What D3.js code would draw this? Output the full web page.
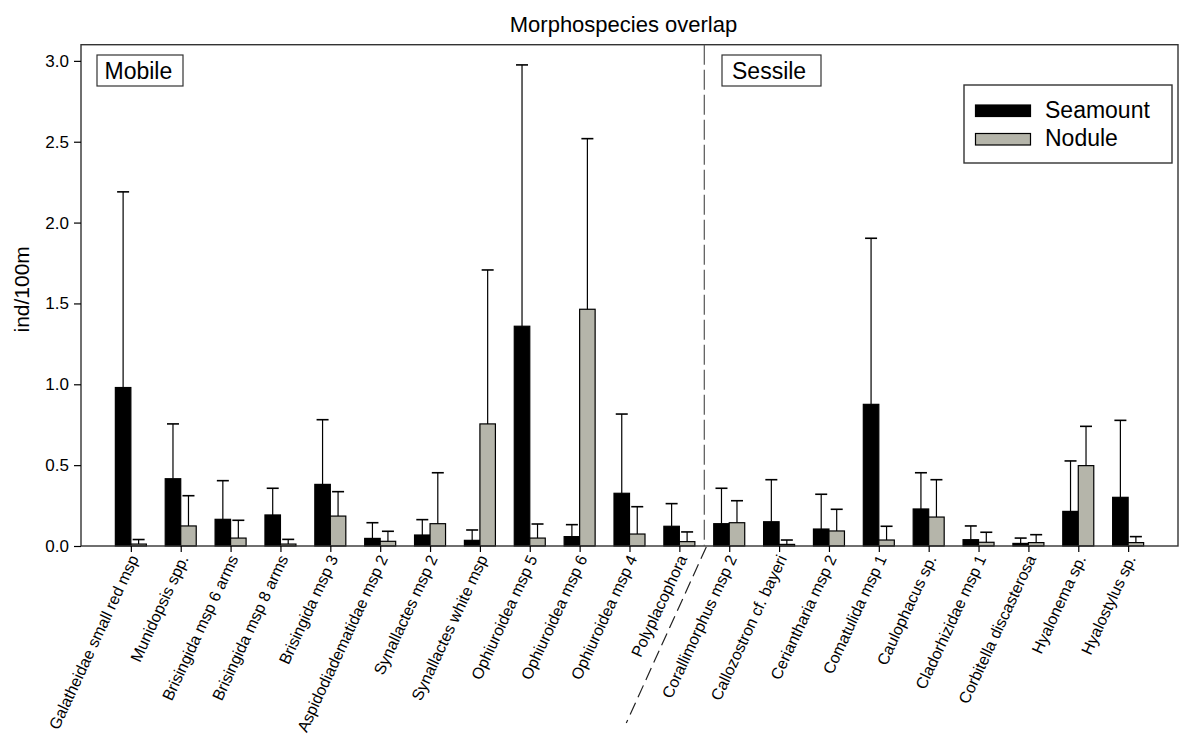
<!DOCTYPE html>
<html>
<head>
<meta charset="utf-8">
<script src="https://cdn.jsdelivr.net/npm/d3@7"></script>
<style>
  html, body { margin: 0; padding: 0; background: #fff; }
  svg text { font-family: "Liberation Sans", Arial, Helvetica, sans-serif; fill: #000; }
</style>
</head>
<body>
<svg id="chart" width="1201" height="756"></svg>
<script>
// Morphospecies densities (ind/100m), mean and standard deviation per habitat
const categories = [
  "Galatheidae small red msp", "Munidopsis spp.", "Brisingida msp 6 arms", "Brisingida msp 8 arms",
  "Brisingida msp 3", "Aspidodiadematidae msp 2", "Synallactes msp 2", "Synallactes white msp",
  "Ophiuroidea msp 5", "Ophiuroidea msp 6", "Ophiuroidea msp 4", "Polyplacophora",
  "Corallimorphus msp 2", "Callozostron cf. bayeri", "Ceriantharia msp 2", "Comatulida msp 1",
  "Caulophacus sp.", "Cladorhizidae msp 1", "Corbitella discasterosa", "Hyalonema sp.", "Hyalostylus sp."
];
const seamountMean = [0.98, 0.416, 0.165, 0.192, 0.381, 0.047, 0.068, 0.035, 1.359, 0.058, 0.326, 0.122,
                      0.138, 0.150, 0.105, 0.876, 0.229, 0.039, 0.016, 0.214, 0.301];
const seamountSD   = [1.21, 0.339, 0.239, 0.165, 0.40, 0.097, 0.095, 0.064, 1.616, 0.074, 0.49, 0.14,
                      0.219, 0.26, 0.215, 1.027, 0.224, 0.085, 0.033, 0.312, 0.476];
const noduleMean   = [0.012, 0.124, 0.049, 0.012, 0.185, 0.029, 0.138, 0.755, 0.049, 1.464, 0.074, 0.027,
                      0.144, 0.010, 0.093, 0.037, 0.179, 0.023, 0.021, 0.497, 0.021];
const noduleSD     = [0.028, 0.187, 0.11, 0.029, 0.151, 0.062, 0.315, 0.952, 0.087, 1.055, 0.169, 0.06,
                      0.136, 0.027, 0.134, 0.085, 0.231, 0.062, 0.049, 0.243, 0.037];
const yTicks = [0, 0.5, 1.0, 1.5, 2.0, 2.5, 3.0];
const seriesNames = ["Seamount", "Nodule"];
const seriesColors = ["#000000", "#b5b5aa"];
const groupLabels = ["Mobile", "Sessile"];
const mobileCount = 12; // first 12 categories are mobile fauna

const svg = d3.select("#chart");
const plotLeft = 81, plotRight = 1178, plotTop = 44.7, plotBottom = 546;

const x = d3.scalePoint().domain(categories).range([plotLeft, plotRight]).padding(1);
const y = d3.scaleLinear().domain([0, 3.1]).range([plotBottom, plotTop]);
const barW = 15.5;

const series = [
  { name: seriesNames[0], color: seriesColors[0], mean: seamountMean, sd: seamountSD, off: -1 },
  { name: seriesNames[1], color: seriesColors[1], mean: noduleMean, sd: noduleSD, off: 0 }
];

// title
svg.append("text").attr("x", 623.5).attr("y", 32).attr("text-anchor", "middle")
  .style("font-size", "22px").text("Morphospecies overlap");

// bars and upper error bars
series.forEach(s => {
  const g = svg.append("g");
  categories.forEach((c, i) => {
    const bx = x(c) + s.off * barW;
    g.append("rect")
      .attr("x", bx).attr("y", y(s.mean[i]))
      .attr("width", barW).attr("height", y(0) - y(s.mean[i]))
      .attr("fill", s.color).attr("stroke", "#000").attr("stroke-width", 1.2);
    const cx = bx + barW / 2;
    const yt = y(s.mean[i] + s.sd[i]);
    g.append("line").attr("x1", cx).attr("x2", cx).attr("y1", y(s.mean[i])).attr("y2", yt)
      .attr("stroke", "#000").attr("stroke-width", 1.2);
    g.append("line").attr("x1", cx - 6).attr("x2", cx + 6).attr("y1", yt).attr("y2", yt)
      .attr("stroke", "#000").attr("stroke-width", 1.6);
  });
});

// frame
svg.append("rect").attr("x", plotLeft).attr("y", plotTop)
  .attr("width", plotRight - plotLeft).attr("height", plotBottom - plotTop)
  .attr("fill", "none").attr("stroke", "#333").attr("stroke-width", 1.4);

// y axis
const yAxis = d3.axisLeft(y).tickValues(yTicks).tickFormat(d3.format(".1f")).tickSize(7).tickPadding(5);
const ya = svg.append("g").attr("transform", `translate(${plotLeft},0)`).call(yAxis);
ya.select(".domain").remove();
ya.selectAll("line").attr("stroke", "#000").attr("stroke-width", 1.2);
ya.selectAll("text").style("font-size", "17px").style("font-family", "'Liberation Sans', Arial, sans-serif");

svg.append("text").attr("transform", `translate(29,${(plotTop + plotBottom) / 2 - 6}) rotate(-90)`)
  .attr("text-anchor", "middle").style("font-size", "21px").text("ind/100m");

// x axis
const xAxis = d3.axisBottom(x).tickSize(6).tickFormat("");
const xa = svg.append("g").attr("transform", `translate(0,${plotBottom})`).call(xAxis);
xa.select(".domain").remove();
xa.selectAll("line").attr("stroke", "#000").attr("stroke-width", 1.2);

svg.append("g").selectAll("text").data(categories).join("text")
  .attr("transform", d => `translate(${x(d) + 3},${plotBottom + 10}) rotate(-65)`)
  .attr("text-anchor", "end").attr("dy", "0.35em")
  .style("font-size", "16px").text(d => d);

// divider between mobile and sessile groups
const divX = (x(categories[mobileCount - 1]) + x(categories[mobileCount])) / 2;
svg.append("line").attr("x1", divX).attr("x2", divX).attr("y1", plotTop).attr("y2", plotBottom)
  .attr("stroke", "#555").attr("stroke-width", 1.2).attr("stroke-dasharray", "20,5");
svg.append("line").attr("x1", divX + 2).attr("x2", divX - 78).attr("y1", plotBottom + 1).attr("y2", 723)
  .attr("stroke", "#222").attr("stroke-width", 1.2).attr("stroke-dasharray", "13,6");

// group labels in boxes
const groupBoxes = [
  { label: groupLabels[0], x: 97, w: 86, tx: 104.5 },
  { label: groupLabels[1], x: 722, w: 99, tx: 732 }
];
groupBoxes.forEach(b => {
  svg.append("rect").attr("x", b.x).attr("y", 55).attr("width", b.w).attr("height", 31)
    .attr("fill", "#fff").attr("stroke", "#333").attr("stroke-width", 1.2);
  svg.append("text").attr("x", b.tx).attr("y", 79).style("font-size", "23px").text(b.label);
});

// legend
const lg = svg.append("g");
lg.append("rect").attr("x", 964).attr("y", 85).attr("width", 208).attr("height", 78)
  .attr("fill", "#fff").attr("stroke", "#333").attr("stroke-width", 1.4);
series.forEach((s, i) => {
  const yy = 105 + i * 28.5;
  lg.append("rect").attr("x", 975.5).attr("y", yy).attr("width", 55).attr("height", 11.5)
    .attr("fill", s.color).attr("stroke", "#000").attr("stroke-width", 1.2);
  lg.append("text").attr("x", 1045).attr("y", yy + 12.5).style("font-size", "23px").text(s.name);
});
</script>
</body>
</html>
